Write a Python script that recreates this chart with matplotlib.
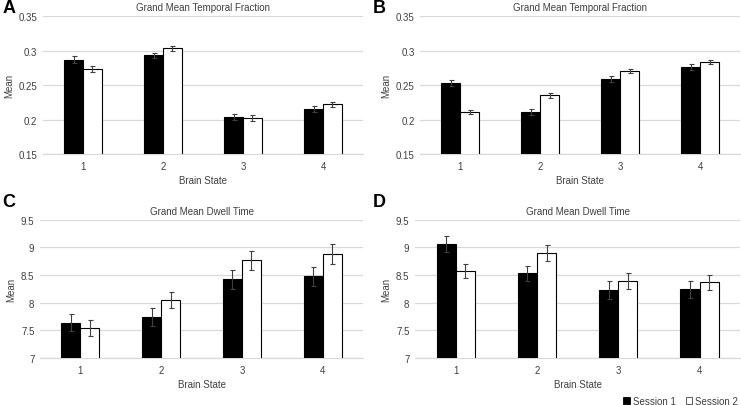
import matplotlib.pyplot as plt
import numpy as np
from matplotlib.patches import Patch

plt.rcParams['font.family'] = ['Liberation Sans', 'DejaVu Sans']

states = ["1", "2", "3", "4"]

# temporal fraction, left / right panels
tf_a_s1 = [0.287, 0.293, 0.204, 0.215]
tf_a_s2 = [0.273, 0.303, 0.202, 0.222]
tf_a_e1 = [0.005, 0.004, 0.004, 0.004]
tf_a_e2 = [0.004, 0.004, 0.004, 0.004]

tf_b_s1 = [0.253, 0.211, 0.259, 0.276]
tf_b_s2 = [0.211, 0.235, 0.270, 0.283]
tf_b_e1 = [0.004, 0.004, 0.004, 0.004]
tf_b_e2 = [0.003, 0.004, 0.003, 0.003]

# dwell time
dt_c_s1 = [7.64, 7.74, 8.42, 8.48]
dt_c_s2 = [7.54, 8.05, 8.77, 8.88]
dt_c_e1 = [0.15, 0.16, 0.17, 0.17]
dt_c_e2 = [0.14, 0.15, 0.17, 0.18]

dt_d_s1 = [9.07, 8.53, 8.23, 8.24]
dt_d_s2 = [8.57, 8.90, 8.39, 8.37]
dt_d_e1 = [0.145, 0.14, 0.17, 0.15]
dt_d_e2 = [0.13, 0.15, 0.14, 0.14]

GRID = "#d9d9d9"
TXT = "#404040"

fig = plt.figure(figsize=(7.41, 4.06), dpi=100)


def panel(rect, s1, s2, e1, e2, ylim, yticks, yticklabels, title):
    ax = fig.add_axes(rect)
    x = np.arange(len(states))
    w = 0.235
    ekw = dict(ecolor="#404040", elinewidth=0.8, capsize=1.8, capthick=0.8)
    ax.bar(x - w / 2, s1, w, color="black", edgecolor="black", linewidth=0.8,
           yerr=e1, error_kw=ekw, zorder=3)
    ax.bar(x + w / 2, s2, w, color="white", edgecolor="black", linewidth=0.8,
           yerr=e2, error_kw=ekw, zorder=3)
    ax.set_xlim(-0.5, len(states) - 0.5)
    ax.set_ylim(*ylim)
    ax.set_yticks(yticks)
    ax.set_yticklabels(yticklabels)
    ax.set_xticks(x)
    ax.set_xticklabels(states)
    ax.yaxis.grid(True, color=GRID, linewidth=0.9, zorder=0)
    ax.set_axisbelow(True)
    for s in ["top", "right", "left"]:
        ax.spines[s].set_visible(False)
    ax.spines["bottom"].set_color(GRID)
    ax.spines["bottom"].set_linewidth(0.9)
    ax.tick_params(axis="x", length=0, labelsize=7, colors=TXT, pad=5)
    ax.tick_params(axis="y", length=0, labelsize=7, colors=TXT, pad=4)
    ax.set_xlabel("Brain State", fontsize=7, color=TXT, labelpad=3)
    ax.set_ylabel("Mean", fontsize=7, color=TXT, labelpad=3.5)
    ax.set_title(title, fontsize=7, color=TXT, pad=4)
    return ax


tf_ticks = [0.15, 0.2, 0.25, 0.3, 0.35]
tf_labels = ["0.15", "0.2", "0.25", "0.3", "0.35"]
dt_ticks = [7, 7.5, 8, 8.5, 9, 9.5]
dt_labels = ["7", "7.5", "8", "8.5", "9", "9.5"]

panel([0.058, 0.618, 0.432, 0.340], tf_a_s1, tf_a_s2, tf_a_e1, tf_a_e2,
      (0.15, 0.35), tf_ticks, tf_labels, "Grand Mean Temporal Fraction")
panel([0.567, 0.618, 0.432, 0.340], tf_b_s1, tf_b_s2, tf_b_e1, tf_b_e2,
      (0.15, 0.35), tf_ticks, tf_labels, "Grand Mean Temporal Fraction")
panel([0.054, 0.116, 0.436, 0.340], dt_c_s1, dt_c_s2, dt_c_e1, dt_c_e2,
      (7, 9.5), dt_ticks, dt_labels, "Grand Mean Dwell Time")
panel([0.560, 0.116, 0.439, 0.340], dt_d_s1, dt_d_s2, dt_d_e1, dt_d_e2,
      (7, 9.5), dt_ticks, dt_labels, "Grand Mean Dwell Time")

# panel letters
for lx, ly, lab in [(0.003, 0.978, "A"), (0.503, 0.978, "B"),
                    (0.003, 0.500, "C"), (0.503, 0.500, "D")]:
    fig.text(lx, ly, lab, fontsize=13, fontweight="bold", va="center", ha="left")

handles = [Patch(facecolor="black", edgecolor="black", linewidth=0.6, label="Session 1"),
           Patch(facecolor="white", edgecolor="#404040", linewidth=0.6, label="Session 2")]
fig.legend(handles=handles, loc="center right", bbox_to_anchor=(1.008, 0.01),
           ncol=2, frameon=False, fontsize=7, handlelength=0.7, handleheight=0.7,
           handletextpad=0.3, columnspacing=1.0, labelcolor=TXT)

fig.savefig("out.png", dpi=100)
